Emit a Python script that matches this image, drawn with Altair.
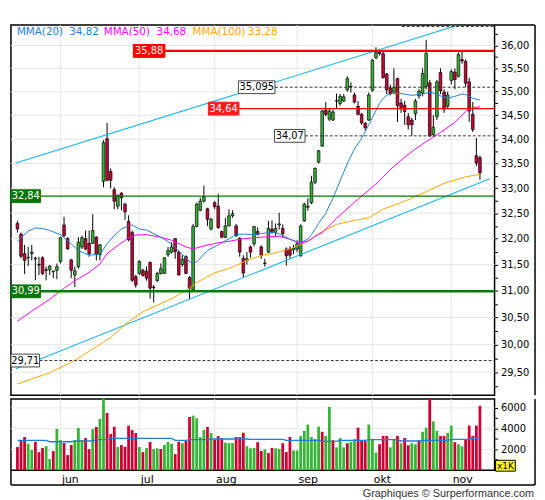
import altair as alt
import pandas as pd

# ---------------- data ----------------
opens = [32.30, 32.09, 31.71, 31.63, 31.71, 31.62, 31.50, 31.63, 31.40, 31.40,
         31.36, 31.39, 31.56, 32.27, 32.00, 31.59, 31.30, 31.46, 31.84, 32.00,
         31.91, 31.91, 32.03, 31.69, 33.14, 34.01, 33.34, 32.97, 32.64, 32.90,
         32.68, 32.34, 32.12, 31.27, 31.33, 31.39, 31.37, 31.54, 31.07, 31.19,
         31.33, 31.33, 31.69, 31.74, 32.00, 31.74, 31.50, 31.65, 31.25, 31.02,
         32.24, 32.56, 32.74, 32.59, 32.19, 32.71, 32.64, 32.14, 32.03, 32.25,
         32.45, 32.25, 32.01, 31.62, 31.58, 31.84, 31.90, 32.14, 31.84, 31.53,
         31.74, 32.19, 32.12, 32.27, 32.20, 31.80, 31.80, 31.78, 31.80, 31.67,
         32.35, 32.62, 32.71, 33.12, 33.53, 33.86, 34.61, 34.42, 34.40, 34.80,
         34.75, 34.80, 35.04, 35.10, 34.93, 34.69, 34.52, 34.33, 34.40, 35.03,
         35.73, 35.85, 35.82, 35.38, 35.08, 34.99, 35.28, 34.76, 34.71, 34.47,
         34.40, 34.53, 34.91, 34.97, 35.11, 35.19, 34.10, 34.47, 35.41, 34.99,
         34.69, 35.24, 35.42, 35.33, 35.69, 35.65, 35.21, 34.52, 33.66, 33.62]
highs = [32.35, 32.12, 31.88, 31.84, 31.88, 31.65, 31.65, 31.66, 31.46, 31.49,
         31.39, 31.52, 32.04, 32.43, 32.03, 31.61, 31.46, 32.03, 32.06, 32.16,
         32.16, 32.48, 32.05, 31.90, 33.98, 34.34, 33.40, 33.02, 32.87, 32.92,
         32.71, 32.46, 32.16, 31.30, 31.58, 31.42, 31.46, 31.56, 31.11, 31.36,
         31.52, 31.64, 31.84, 31.93, 32.01, 31.77, 31.68, 31.68, 31.28, 32.29,
         32.71, 32.81, 33.05, 32.61, 32.41, 32.74, 32.89, 32.16, 32.41, 32.58,
         32.56, 32.29, 32.03, 31.68, 31.74, 31.87, 32.25, 32.22, 31.87, 31.61,
         32.35, 32.36, 32.30, 32.51, 32.28, 31.83, 31.85, 31.88, 31.97, 32.28,
         32.71, 32.80, 33.25, 33.42, 33.78, 34.62, 34.78, 34.65, 34.62, 34.96,
         34.95, 34.95, 35.33, 35.20, 34.98, 34.80, 34.55, 34.36, 34.98, 35.70,
         35.96, 35.92, 35.88, 35.40, 35.15, 35.50, 35.30, 34.85, 34.80, 34.55,
         34.45, 34.85, 35.05, 35.50, 36.12, 35.25, 34.50, 35.25, 35.50, 35.05,
         35.00, 35.48, 35.50, 35.85, 35.86, 35.70, 35.30, 34.78, 34.03, 33.66]
lows = [32.12, 31.62, 31.32, 31.47, 31.58, 31.20, 31.30, 31.30, 31.20, 31.30,
        31.24, 31.22, 31.52, 32.03, 31.79, 31.24, 31.07, 31.42, 31.80, 31.77,
        31.65, 31.90, 31.58, 31.58, 33.02, 33.14, 33.00, 32.58, 32.58, 32.56,
        32.37, 31.95, 31.17, 31.06, 31.30, 31.27, 31.19, 30.85, 30.78, 31.17,
        31.31, 31.32, 31.65, 31.71, 31.61, 31.29, 31.46, 31.32, 30.85, 31.01,
        32.22, 32.54, 32.71, 32.25, 32.16, 32.58, 32.19, 32.01, 32.01, 32.24,
        32.41, 32.03, 31.65, 31.25, 31.50, 31.63, 31.85, 32.06, 31.61, 31.46,
        31.72, 32.10, 32.05, 32.18, 32.02, 31.48, 31.62, 31.70, 31.74, 31.65,
        32.33, 32.55, 32.68, 33.08, 33.50, 33.84, 34.48, 34.38, 34.38, 34.65,
        34.70, 34.78, 35.00, 34.98, 34.75, 34.50, 34.30, 34.18, 34.38, 35.00,
        35.70, 35.78, 35.28, 34.95, 34.92, 34.95, 34.36, 34.55, 34.30, 34.20,
        34.07, 34.40, 34.85, 34.90, 35.05, 34.05, 34.05, 34.40, 34.95, 34.55,
        34.65, 35.15, 35.05, 35.30, 35.60, 35.10, 34.36, 34.15, 33.45, 33.17]
closes = [32.19, 31.66, 31.58, 31.64, 31.74, 31.61, 31.49, 31.33, 31.39, 31.47,
          31.37, 31.46, 32.02, 32.06, 31.80, 31.39, 31.38, 31.93, 32.02, 31.80,
          31.71, 32.16, 31.70, 31.88, 33.93, 33.16, 33.16, 32.74, 32.86, 32.81,
          32.53, 31.98, 31.20, 31.11, 31.56, 31.29, 31.24, 31.05, 31.06, 31.33,
          31.42, 31.63, 31.77, 31.84, 31.75, 31.30, 31.60, 31.33, 31.05, 32.24,
          32.68, 32.74, 32.83, 32.38, 32.38, 32.63, 32.22, 32.03, 32.25, 32.45,
          32.49, 32.06, 31.74, 31.34, 31.61, 31.74, 32.24, 32.09, 31.68, 31.52,
          32.20, 32.12, 32.20, 32.29, 32.10, 31.67, 31.68, 31.82, 31.90, 32.25,
          32.68, 32.64, 33.12, 33.40, 33.76, 34.59, 34.52, 34.59, 34.57, 34.81,
          34.90, 34.89, 35.28, 35.11, 34.78, 34.52, 34.34, 34.24, 34.93, 35.68,
          35.85, 35.82, 35.30, 35.04, 34.96, 35.09, 34.70, 34.66, 34.58, 34.30,
          34.30, 34.80, 35.01, 35.39, 35.83, 34.07, 34.25, 35.21, 35.02, 34.63,
          34.93, 35.43, 35.26, 35.80, 35.66, 35.18, 34.59, 34.20, 33.51, 33.31]

volumes = [2230, 2810, 3190, 2550, 1940, 2740, 1740, 2130, 2320, 1070,
           1840, 3970, 2900, 2610, 1450, 2420, 2870, 4070, 2900, 3100,
           2030, 3970, 4160, 4940, 6900, 5520, 3480, 4190, 2230, 2420,
           2260, 4290, 3870, 3580, 2230, 1740, 2130, 2710, 2030, 2100,
           2030, 2420, 2710, 2550, 1550, 2740, 2610, 2810, 5130, 5260,
           5000, 3190, 3870, 4160, 3580, 2940, 3290, 3070, 2650, 2610,
           2610, 3190, 3190, 3610, 2320, 2100, 2150, 2700, 1850, 2000,
           1650, 2150, 2100, 2050, 2600, 1750, 3200, 1900, 1900, 3300,
           3800, 4400, 3200, 3000, 4200, 3700, 3300, 6100, 2900, 2200,
           3100, 2200, 2600, 2700, 3000, 4100, 2900, 2800, 4400, 3000,
           1700, 2500, 3300, 3300, 2200, 3000, 3300, 2600, 3100, 2400,
           2600, 2500, 2900, 3700, 4100, 6900, 4700, 3800, 3300, 3300,
           3600, 4300, 2700, 2500, 2300, 3000, 4300, 3300, 4300, 6200]
vol_up = [0, 0, 0, 1, 1, 0, 0, 0, 1, 1,
          0, 1, 1, 0, 0, 0, 1, 1, 1, 0,
          0, 1, 0, 1, 1, 0, 0, 0, 1, 0,
          0, 0, 0, 0, 1, 0, 1, 0, 1, 1,
          0, 1, 1, 1, 0, 0, 1, 0, 0, 1,
          1, 1, 1, 0, 1, 0, 0, 0, 1, 1,
          1, 0, 0, 0, 1, 1, 1, 0, 0, 1,
          0, 0, 1, 1, 0, 0, 0, 1, 1, 1,
          1, 1, 1, 1, 1, 0, 1, 1, 0, 1,
          1, 1, 0, 1, 1, 0, 0, 0, 1, 1,
          1, 0, 0, 0, 1, 1, 0, 1, 0, 0,
          1, 1, 0, 1, 1, 0, 1, 1, 0, 0,
          1, 1, 0, 1, 1, 0, 0, 0, 0, 0]

month_idx = [12, 34, 55, 78, 99, 121]
month_names = ["jun", "jul", "aug", "sep", "okt", "nov"]

ma20_idx = [0, 3, 5, 7, 9, 12, 15, 17, 20, 23, 25, 27, 29, 31, 32, 34, 36, 40, 43, 46,
            48, 49, 50, 53, 56, 59, 61, 63, 66, 68, 70, 72, 74, 76, 78, 79, 81, 82, 84, 86,
            88, 90, 92, 94, 96, 98, 100, 101, 102, 103, 105, 108, 110, 113, 115, 117, 118,
            120, 122, 124, 125, 127, 129]
ma20_val = [31.95, 32.15, 32.21, 32.20, 32.16, 32.08, 31.90, 31.77, 31.68, 31.70, 31.90,
            32.06, 32.19, 32.26, 32.27, 32.19, 32.17, 32.03, 31.90, 31.69, 31.56, 31.52,
            31.55, 31.77, 31.88, 32.00, 32.08, 32.09, 32.08, 32.10, 32.12, 32.12, 32.07,
            31.99, 31.94, 31.93, 31.99, 32.08, 32.30, 32.50, 32.80, 33.15, 33.50, 33.80,
            34.02, 34.30, 34.60, 34.75, 34.85, 34.93, 34.97, 34.95, 34.92, 34.95, 34.99,
            34.95, 34.91, 34.86, 34.90, 34.95, 34.94, 34.86, 34.82]
ma50_idx = [0, 4, 9, 12, 16, 20, 23, 25, 28, 31, 33, 36, 40, 43, 47, 49, 52, 56, 59, 63,
            66, 70, 73, 76, 78, 79, 81, 83, 85, 89, 94, 97, 101, 104, 108, 111, 114, 118,
            122, 125, 127, 129]
ma50_val = [30.43, 30.62, 30.84, 31.00, 31.19, 31.35, 31.51, 31.71, 31.87, 32.01, 32.07,
            32.08, 32.03, 31.97, 31.84, 31.80, 31.86, 31.92, 31.95, 32.00, 32.02, 32.04,
            32.05, 31.99, 31.93, 31.92, 31.95, 32.05, 32.12, 32.40, 32.72, 32.90, 33.15,
            33.38, 33.63, 33.80, 33.95, 34.14, 34.35, 34.58, 34.66, 34.68]
ma100_idx = [0, 9, 16, 22, 26, 30, 35, 43, 48, 50, 55, 60, 64, 69, 71, 76, 79, 82, 84, 89,
             94, 98, 102, 108, 114, 119, 125, 129]
ma100_val = [29.29, 29.49, 29.71, 29.96, 30.13, 30.37, 30.61, 30.85, 31.05, 31.16, 31.34,
             31.45, 31.58, 31.69, 31.71, 31.80, 31.89, 31.99, 32.10, 32.28, 32.36, 32.41,
             32.58, 32.74, 32.93, 33.10, 33.23, 33.28]

vma_idx = [0, 8, 9, 15, 16, 21, 22, 25, 26, 43, 44, 47, 48, 53, 54, 64, 65, 74, 75, 84,
           85, 89, 90, 97, 98, 106, 107, 112, 113, 120, 121, 126, 127, 129]
vma_val = [2870, 2870, 2740, 2740, 2810, 2810, 2940, 2940, 3070, 3070, 2870, 2870, 2940,
           2940, 3000, 3000, 2970, 2970, 2870, 2870, 2770, 2770, 2870, 2870, 2940, 2940,
           2810, 2810, 2870, 2870, 2970, 2970, 3100, 3100]

trend_up_idx = [-0.43, 122.5]
trend_up_val = [33.51, 36.44]
trend_lo_idx = [-0.43, 131.7]
trend_lo_val = [29.56, 33.19]

level_vals = [35.88, 35.095, 34.64, 34.07, 32.84, 30.99, 29.71]
level_texts = ["35,88", "35,095", "34,64", "34,07", "32,84", "30,99", "29,71"]

price_ticks = [29.25, 29.5, 29.75, 30.0, 30.25, 30.5, 30.75, 31.0, 31.25, 31.5, 31.75,
               32.0, 32.25, 32.5, 32.75, 33.0, 33.25, 33.5, 33.75, 34.0, 34.25, 34.5,
               34.75, 35.0, 35.25, 35.5, 35.75, 36.0, 36.25]
vol_ticks = [1000, 2000, 3000, 4000, 5000, 6000]

# ---------------- styling ----------------
W, H_P, H_V = 490, 375, 72
FONT = "DejaVu Sans"
GREEN_C, RED_C = "#35b535", "#cc0033"
GREEN_V, RED_V = "#3cc03c", "#d8004a"
C20, C50, C100, CYAN = "#1f7fd6", "#ff00ff", "#ffa500", "#19b2ef"
GRID = "#e6e6e6"
FRAME_X = 531

xscale = alt.Scale(domain=[-0.43, 131.7], nice=False, zero=False)
pscale = alt.Scale(type="log", domain=[29.09, 36.45], nice=False, zero=False)
paxis = alt.Axis(orient="right", values=price_ticks, title=None, grid=False, domain=False,
                 tickSize=3, tickColor="black", labelFont=FONT, labelFontSize=10,
                 labelColor="black", labelPadding=3,
                 labelExpr="abs(datum.value*2 - round(datum.value*2)) < 0.001 ? "
                           "replace(format(datum.value, '.2f'), '.', ',') : ''")


def PX(field="i"):
    return alt.X(f"{field}:Q", scale=xscale, axis=None, title=None)


def PY(field):
    return alt.Y(f"{field}:Q", scale=pscale, axis=paxis, title=None)


one = alt.Data(values=[{}])

candles = pd.DataFrame({"i": list(range(len(opens))), "open": opens, "high": highs,
                        "low": lows, "close": closes})
candles["dir"] = ["up" if c >= o else "down" for o, c in zip(opens, closes)]

grid_vals = [v for v in price_ticks if abs(v * 2 - round(v * 2)) < 1e-9]
hgrid = alt.Chart(pd.DataFrame({"p": grid_vals})).mark_rule(color=GRID, strokeWidth=1).encode(y=PY("p"))
vgrid = alt.Chart(pd.DataFrame({"i": month_idx})).mark_rule(color=GRID, strokeWidth=1).encode(x=PX())

wicks = alt.Chart(candles).mark_rule(color="black", strokeWidth=1).encode(
    x=PX(), y=PY("low"), y2=alt.Y2("high:Q"))
bodies = alt.Chart(candles).mark_bar(width=2.7, stroke="black", strokeWidth=0.7).encode(
    x=PX(), y=PY("open"), y2=alt.Y2("close:Q"),
    color=alt.Color("dir:N", scale=alt.Scale(domain=["up", "down"], range=[GREEN_C, RED_C]),
                    legend=None))


def line_layer(idx, vals, color, width=1.0):
    df = pd.DataFrame({"i": idx, "v": vals})
    return alt.Chart(df).mark_line(color=color, strokeWidth=width, clip=True).encode(
        x=PX(), y=PY("v"))


tr_up = line_layer(trend_up_idx, trend_up_val, CYAN, 1.1)
tr_lo = line_layer(trend_lo_idx, trend_lo_val, CYAN, 1.1)
m100 = line_layer(ma100_idx, ma100_val, C100)
m50 = line_layer(ma50_idx, ma50_val, C50)
m20 = line_layer(ma20_idx, ma20_val, C20)

# level styling: (box center x, box width, box fill, box stroke, text colour, line start, line colour, width, dash)
lvl_style = [
    (140, 32, "#ff0000", "#ff0000", "white", 156, "#ff0000", 2.2, None),
    (249, 37, "white", "#444444", "black", 267.5, "#333333", 1, [3, 2]),
    (215.5, 31, "#ff1a1a", "#ff1a1a", "white", 231, "#ff0000", 1.2, None),
    (282.5, 31, "white", "#444444", "black", 298, "#333333", 1, [3, 2]),
    (15, 30, "#0a760a", "#0a760a", "white", 30, "#007a00", 1.2, None),
    (15, 30, "#0a760a", "#0a760a", "white", 30, "#007a00", 2.6, None),
    (14.5, 29, "white", "#444444", "black", 29, "#333333", 1, [3, 2]),
]
level_layers = []
for val, txt, st in zip(level_vals, level_texts, lvl_style):
    cx, bw, fill, stroke, tcol, x0, lcol, lw, dash = st
    df = pd.DataFrame({"p": [val], "t": [txt]})
    rule_kw = dict(color=lcol, strokeWidth=lw)
    if dash:
        rule_kw["strokeDash"] = dash
    level_layers.append(alt.Chart(df).mark_rule(**rule_kw).encode(
        x=alt.value(x0), x2=alt.value(W), y=PY("p")))
    r = 13.0 / bw
    path = f"M-1,-{r:.4f} L1,-{r:.4f} L1,{r:.4f} L-1,{r:.4f} Z"
    level_layers.append(alt.Chart(df).mark_point(
        shape=path, size=bw * bw, filled=True, fill=fill, stroke=stroke, strokeWidth=1,
        opacity=1).encode(x=alt.value(cx), y=PY("p")))
    level_layers.append(alt.Chart(df).mark_text(
        font=FONT, fontSize=10, color=tcol, align="center", baseline="middle").encode(
        x=alt.value(cx), y=PY("p"), text="t:N"))


def fmt(v):
    return f"{v:.2f}".replace(".", ",")


legend_items = [("MMA(20)", 6, C20), (fmt(ma20_val[-1]), 59, C20),
                ("MMA(50)", 94, C50), (fmt(ma50_val[-1]), 147.5, C50),
                ("MMA(100)", 184, C100), (fmt(ma100_val[-1]), 240, C100)]
legend_layers = [alt.Chart(one).mark_text(text=t, font=FONT, fontSize=10.5, color=c,
                                          align="left", baseline="middle").encode(
    x=alt.value(x), y=alt.value(7)) for t, x, c in legend_items]

top_dash = alt.Chart(one).mark_rule(color="#333333", strokeDash=[3, 2], strokeWidth=1).encode(
    x=alt.value(396), x2=alt.value(W), y=alt.value(1.5))
frame_p = [
    alt.Chart(one).mark_rule(color="black", strokeWidth=1.5).encode(
        x=alt.value(W), x2=alt.value(FRAME_X), y=alt.value(0)),
    alt.Chart(one).mark_rule(color="black", strokeWidth=1.5).encode(
        x=alt.value(FRAME_X), y=alt.value(0), y2=alt.value(H_P)),
]

price = alt.layer(hgrid, vgrid, wicks, bodies, tr_up, tr_lo, m100, m50, m20,
                  *level_layers, top_dash, *legend_layers, *frame_p).properties(
    width=W, height=H_P)

# ---------------- volume panel ----------------
vdf = pd.DataFrame({"i": list(range(len(volumes))), "vol": volumes,
                    "dir": ["up" if u else "down" for u in vol_up]})
vscale = alt.Scale(domain=[0, 6850], nice=False, zero=True)
vaxis = alt.Axis(orient="right", values=vol_ticks, title=None, grid=False, domain=False,
                 tickSize=3, tickColor="black", labelFont=FONT, labelFontSize=10,
                 labelColor="black", labelPadding=3,
                 labelExpr="datum.value % 2000 == 0 ? format(datum.value, 'd') : ''")
month_expr = " : ".join(f"datum.value == {m} ? '{n}'" for m, n in zip(month_idx, month_names)) + " : ''"
xaxis_v = alt.Axis(values=month_idx, labelExpr=month_expr, title=None, grid=False,
                   domain=False, ticks=False, labelAlign="left", labelOffset=1,
                   labelPadding=3, labelFont=FONT, labelFontSize=11, labelColor="black",
                   labelBaseline="top")


def VX():
    return alt.X("i:Q", scale=xscale, axis=xaxis_v, title=None)


def VY(field):
    return alt.Y(f"{field}:Q", scale=vscale, axis=vaxis, title=None)


vgrid_h = alt.Chart(pd.DataFrame({"v": [2000, 4000, 6000]})).mark_rule(
    color=GRID, strokeWidth=1).encode(y=VY("v"))
vgrid_v = alt.Chart(pd.DataFrame({"i": month_idx})).mark_rule(
    color=GRID, strokeWidth=1).encode(x=VX())
vbars = alt.Chart(vdf).mark_bar(width=2.8).encode(
    x=VX(), y=VY("vol"),
    color=alt.Color("dir:N", scale=alt.Scale(domain=["up", "down"], range=[GREEN_V, RED_V]),
                    legend=None))
vma = alt.Chart(pd.DataFrame({"i": vma_idx, "v": vma_val})).mark_line(
    color=C20, strokeWidth=1.4).encode(x=VX(), y=VY("v"))

STRIP = 87
frame_v = [
    alt.Chart(one).mark_rule(color="black", strokeWidth=1.5).encode(
        x=alt.value(FRAME_X), y=alt.value(0), y2=alt.value(STRIP)),
    alt.Chart(one).mark_rule(color="black", strokeWidth=1.5).encode(
        x=alt.value(0), x2=alt.value(FRAME_X), y=alt.value(STRIP)),
    alt.Chart(one).mark_rule(color="black", strokeWidth=1.5).encode(
        x=alt.value(0), y=alt.value(H_V), y2=alt.value(STRIP)),
]
x1k_box = alt.Chart(one).mark_point(
    shape="M-1,-0.55 L1,-0.55 L1,0.55 L-1,0.55 Z", size=400, filled=True,
    fill="#ffff00", stroke="black", strokeWidth=1, opacity=1).encode(
    x=alt.value(501), y=alt.value(67.5))
x1k_txt = alt.Chart(one).mark_text(text="x1K", font=FONT, fontSize=9, color="black",
                                   align="center", baseline="middle").encode(
    x=alt.value(501), y=alt.value(67.8))
footer = alt.Chart(one).mark_text(text="Graphiques \u00a9 Surperformance.com",
                                  font="Liberation Sans", fontSize=11, color="#333333",
                                  align="right", baseline="middle").encode(
    x=alt.value(530), y=alt.value(96.5))

volume = alt.layer(vgrid_h, vgrid_v, vbars, vma, *frame_v, x1k_box, x1k_txt, footer).properties(
    width=W, height=H_V)

chart = alt.vconcat(price, volume, spacing=0).properties(
    padding={"left": 0, "top": 12, "right": 0, "bottom": 0}
).configure_view(stroke="black", strokeWidth=1.5).configure_concat(spacing=0)

chart.save("out.html", embed_options={"renderer": "svg", "actions": False})
